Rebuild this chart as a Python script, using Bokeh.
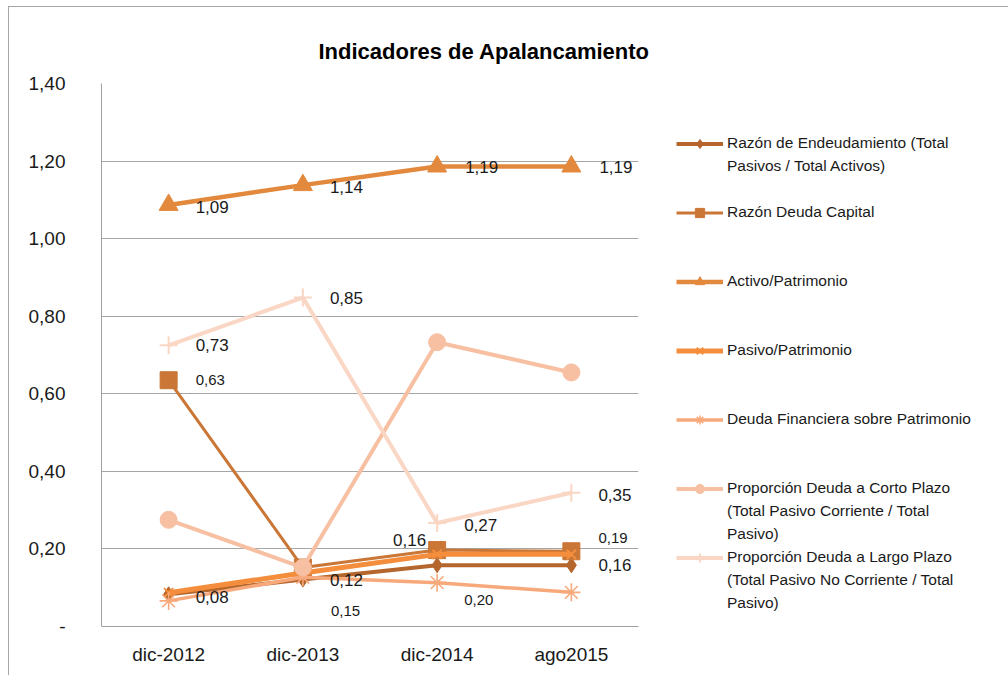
from bokeh.plotting import figure
from bokeh.models import FactorRange, Range1d, FixedTicker, Legend, LegendItem, ColumnDataSource
from bokeh.core.properties import value
from bokeh.embed import file_html
from bokeh.resources import INLINE

# ---------------- data ----------------
categories = ["dic-2012", "dic-2013", "dic-2014", "ago2015"]

razon_endeudamiento = [0.083, 0.121, 0.158, 0.158]
razon_deuda_capital = [0.635, 0.152, 0.197, 0.194]
activo_patrimonio = [1.087, 1.138, 1.186, 1.186]
pasivo_patrimonio = [0.087, 0.138, 0.186, 0.186]
deuda_financiera = [0.066, 0.127, 0.113, 0.088]
corto_plazo = [0.275, 0.152, 0.733, 0.655]
largo_plazo = [0.725, 0.848, 0.267, 0.345]

series_values = [razon_endeudamiento, razon_deuda_capital, activo_patrimonio,
                 pasivo_patrimonio, deuda_financiera, corto_plazo, largo_plazo]

legend_texts = [
    ["Razón de Endeudamiento (Total", "Pasivos / Total Activos)"],
    ["Razón Deuda Capital"],
    ["Activo/Patrimonio"],
    ["Pasivo/Patrimonio"],
    ["Deuda Financiera sobre Patrimonio"],
    ["Proporción Deuda a Corto Plazo", "(Total Pasivo Corriente / Total", "Pasivo)"],
    ["Proporción Deuda a Largo Plazo", "(Total Pasivo No Corriente / Total", "Pasivo)"],
]

y_ticks = [0, 0.2, 0.4, 0.6, 0.8, 1.0, 1.2, 1.4]
y_tick_labels = ["-", "0,20", "0,40", "0,60", "0,80", "1,00", "1,20", "1,40"]

# data labels: (series index, category index, text)
label_series = [2, 2, 2, 2, 6, 6, 6, 6, 0, 0, 0, 0, 1, 1, 1, 1]
label_cat = [0, 1, 2, 3, 0, 1, 2, 3, 0, 1, 2, 3, 0, 1, 2, 3]
label_text = ["1,09", "1,14", "1,19", "1,19",
              "0,73", "0,85", "0,27", "0,35",
              "0,08", "0,12", "0,16", "0,16",
              "0,63", "0,15", "0,20", "0,19"]

# ---------------- styles ----------------
FONT = "Liberation Sans"
colors = ["#B4662D", "#CA7636", "#E3893D", "#F58E3C", "#F7A97B", "#F7C0A2", "#FAD6C5"]
markers = ["diamond", "square", "triangle", "x", "asterisk", "circle", "cross"]
marker_sizes = [15, 17, 19, 13, 18, 17, 18]
line_widths = [4, 3, 4.5, 5, 3.5, 4, 4]
marker_line_widths = [1, 1, 1, 2, 1.6, 1, 2]
filled = [True, True, True, False, False, True, False]

# label offsets (pixels) and font sizes
label_dx = [27, 27, 28, 28, 27, 27, 27, 27, 27, 27, -11, 27, 27, 28, 27, 27]
label_dy = [2, 2, 0, 0, 0, 0, 2, 2, 3, 0, -25, 0, 0, 43, 50, -13]
label_align = ["left"] * 10 + ["right"] + ["left"] * 5
label_size = ["17px"] * 12 + ["15px"] * 4

p = figure(
    x_range=FactorRange(*categories, range_padding=0),
    y_range=Range1d(0, 1.4),
    frame_width=537, frame_height=543,
    output_backend="svg", toolbar_location=None,
    min_border_left=92, min_border_top=76, min_border_right=0, min_border_bottom=49,
)
p.styles = {"margin-left": "8px", "margin-top": "6px",
            "border-left": "1px solid #a6a6a6", "border-top": "1px solid #a6a6a6"}
p.outline_line_color = None
p.background_fill_color = "white"

p.title.text = "Indicadores de Apalancamiento"
p.title.align = "left"
p.title.offset = 217
p.title.standoff = 40
p.title.text_font = FONT
p.title.text_font_size = "22px"
p.title.text_font_style = "bold"
p.title.text_color = "#000000"

p.yaxis.ticker = FixedTicker(ticks=y_ticks)
p.yaxis.major_label_overrides = dict(zip(y_ticks, y_tick_labels))
for ax in (p.xaxis, p.yaxis):
    ax.major_tick_in = 0
    ax.major_tick_out = 0
    ax.minor_tick_in = 0
    ax.minor_tick_out = 0
    ax.axis_line_color = "#a0a0a0"
    ax.axis_line_width = 1
    ax.major_label_text_font = FONT
    ax.major_label_text_font_size = "19px"
    ax.major_label_text_color = "#1a1a1a"
p.yaxis.major_label_standoff = 36
p.xaxis.major_label_standoff = 17
p.xgrid.grid_line_color = None
p.ygrid.grid_line_color = "#a6a6a6"
p.ygrid.grid_line_width = 1

line_rs, scat_rs = [], []
for i, vals in enumerate(series_values):
    src = ColumnDataSource(dict(x=categories, y=vals))
    lr = p.line("x", "y", source=src, line_color=colors[i], line_width=line_widths[i])
    sr = p.scatter("x", "y", source=src, marker=markers[i], size=marker_sizes[i],
                   fill_color=colors[i] if filled[i] else None,
                   line_color=colors[i], line_width=marker_line_widths[i])
    line_rs.append(lr)
    scat_rs.append(sr)

lab = ColumnDataSource(dict(
    x=[categories[c] for c in label_cat],
    y=[series_values[s][c] for s, c in zip(label_series, label_cat)],
    text=label_text, dx=label_dx, dy=label_dy, align=label_align, size=label_size,
))
p.text("x", "y", text="text", source=lab, x_offset="dx", y_offset="dy",
       text_align="align", text_font_size="size", text_baseline="middle",
       text_font=value(FONT), text_color="#1a1a1a")

dummy = p.line(x=[], y=[], line_alpha=0)
items = []
for i, lines in enumerate(legend_texts):
    items.append(LegendItem(label=lines[0], renderers=[line_rs[i], scat_rs[i]]))
    for k in (1, 2):
        txt = lines[k] if k < len(lines) else "\u00a0"
        items.append(LegendItem(label=txt, renderers=[dummy]))

legend = Legend(items=items, location=(38, 11.5), orientation="vertical",
                glyph_width=47, glyph_height=23, label_height=23, label_standoff=4,
                spacing=0, padding=0, margin=0, border_line_color=None,
                background_fill_alpha=0, label_text_font=FONT,
                label_text_font_size="15.5px", label_text_color="#1a1a1a",
                inactive_fill_alpha=0)
p.add_layout(legend, "right")

open("out.html", "w").write(file_html(p, INLINE))
